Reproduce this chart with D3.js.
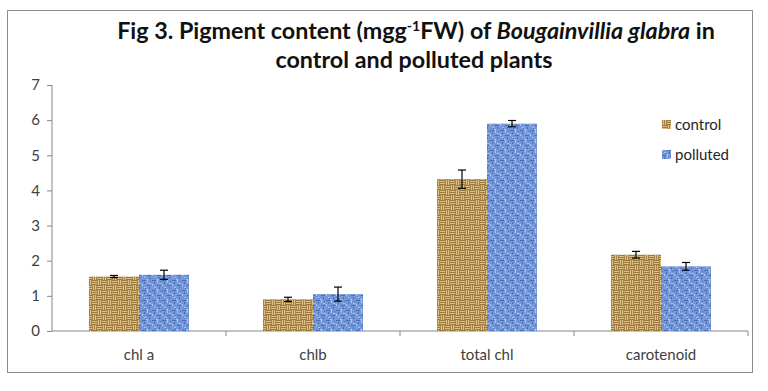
<!DOCTYPE html>
<html><head><meta charset="utf-8">
<script src="https://cdn.jsdelivr.net/npm/d3@7"></script>
<style>body{margin:0;background:#fff}svg{display:block}</style>
</head><body>
<svg id="c" width="768" height="391"></svg>
<script>
const categories = ["chl a", "chlb", "total chl", "carotenoid"];
const seriesNames = ["control", "polluted"];
const controlValues = [1.55, 0.90, 4.32, 2.17];
const pollutedValues = [1.60, 1.05, 5.90, 1.84];
const controlErrors = [0.03, 0.06, 0.26, 0.095];
const pollutedErrors = [0.13, 0.2, 0.09, 0.11];
const yTicks = [0, 1, 2, 3, 4, 5, 6, 7];

const svg = d3.select("#c");
const defs = svg.append("defs");
const FONT = "Lato, 'Open Sans', sans-serif";

// tan basketweave pattern
const pc = defs.append("pattern").attr("id", "pc").attr("patternUnits", "userSpaceOnUse").attr("width", 10).attr("height", 10);
pc.append("rect").attr("width", 10).attr("height", 10).attr("fill", "#dcc088");
[[0,0.5,5],[0,2.5,5],[0,4.5,5],[5,5.5,10],[5,7.5,10],[5,9.5,10]].forEach(l=>pc.append("line").attr("x1",l[0]).attr("y1",l[1]).attr("x2",l[2]).attr("y2",l[1]).attr("stroke","#9a773a").attr("stroke-width",1));
[[5.5,0,5],[7.5,0,5],[9.5,0,5],[0.5,5,10],[2.5,5,10],[4.5,5,10]].forEach(l=>pc.append("line").attr("x1",l[0]).attr("y1",l[1]).attr("x2",l[0]).attr("y2",l[2]).attr("stroke","#a6844a").attr("stroke-width",1));

// blue textured pattern
const pp = defs.append("pattern").attr("id", "pp").attr("patternUnits", "userSpaceOnUse").attr("width", 10).attr("height", 10);
pp.append("rect").attr("width", 10).attr("height", 10).attr("fill", "#7397d8");
[[0,0,4,1],[5,5,4,1],[2,2,1,2],[7,7,1,2],[8,1,1,1],[3,8,1,1]].forEach(r=>pp.append("rect").attr("x",r[0]).attr("y",r[1]).attr("width",r[2]).attr("height",r[3]).attr("fill","#4d6db0"));
[[0,4,1,2],[5,0,1,3],[7,3,2,1],[2,7,2,1],[4,9,2,1]].forEach(r=>pp.append("rect").attr("x",r[0]).attr("y",r[1]).attr("width",r[2]).attr("height",r[3]).attr("fill","#aac2ec"));

// outer border
svg.append("rect").attr("x", 7.5).attr("y", 10.5).attr("width", 745).attr("height", 362)
  .attr("fill", "none").attr("stroke", "#8c8c8c").attr("stroke-width", 1);

const x0 = d3.scaleBand().domain(categories).range([52, 748]).paddingInner(0).paddingOuter(0);
const y = d3.scaleLinear().domain([0, 7]).range([331, 85]);

const fills = {control: "url(#pc)", polluted: "url(#pp)"};
const rows = categories.map((c, i) => ({cat: c, vals: [
  {s: "control", v: controlValues[i], e: controlErrors[i]},
  {s: "polluted", v: pollutedValues[i], e: pollutedErrors[i]}]}));

// axes
const gy = svg.append("g").attr("transform", "translate(52,0)")
  .call(d3.axisLeft(y).tickValues(yTicks).tickSize(5).tickPadding(7).tickFormat(d3.format("d")));
gy.select(".domain").attr("stroke", "#868686").attr("d", "M0,85V331");
gy.selectAll(".tick line").attr("stroke", "#868686");
gy.selectAll("text").attr("font-family", FONT).attr("font-size", 15).attr("fill", "#404040");

const gx = svg.append("g").attr("transform", "translate(0,331)");
gx.append("line").attr("x1", 52).attr("x2", 748).attr("stroke", "#868686");
gx.selectAll("line.tk").data(categories.slice(1).concat(["__end"])).enter().append("line").attr("class", "tk")
  .attr("x1", d => d === "__end" ? 748 : x0(d)).attr("x2", d => d === "__end" ? 748 : x0(d))
  .attr("y1", 0).attr("y2", 5).attr("stroke", "#868686");
gx.selectAll("text").data(categories).enter().append("text")
  .attr("x", d => x0(d) + x0.bandwidth()/2).attr("y", 29).attr("text-anchor", "middle")
  .attr("font-family", FONT).attr("font-size", 15).attr("fill", "#404040").text(d => d);

// bars
const groups = svg.selectAll("g.cat").data(rows).enter().append("g").attr("class", "cat")
  .attr("transform", d => `translate(${x0(d.cat)},0)`);
const bw = 50;
const off = (x0.bandwidth() - 2*bw)/2;
groups.selectAll("rect").data(d => d.vals).enter().append("rect")
  .attr("x", (d, i) => off + i*bw).attr("width", bw)
  .attr("y", d => y(d.v)).attr("height", d => y(0) - y(d.v))
  .attr("fill", d => fills[d.s]);

// error bars
const eb = groups.selectAll("g.eb").data(d => d.vals).enter().append("g").attr("class", "eb")
  .attr("stroke", "#000").attr("stroke-width", 1.2);
eb.append("line").attr("x1", (d,i) => off + i*bw + bw/2).attr("x2", (d,i) => off + i*bw + bw/2)
  .attr("y1", d => y(d.v + d.e)).attr("y2", d => y(d.v - d.e));
eb.append("line").attr("x1", (d,i) => off + i*bw + bw/2 - 4).attr("x2", (d,i) => off + i*bw + bw/2 + 4)
  .attr("y1", d => y(d.v + d.e)).attr("y2", d => y(d.v + d.e));
eb.append("line").attr("x1", (d,i) => off + i*bw + bw/2 - 4).attr("x2", (d,i) => off + i*bw + bw/2 + 4)
  .attr("y1", d => y(d.v - d.e)).attr("y2", d => y(d.v - d.e));

// legend
const lg = svg.selectAll("g.lg").data(seriesNames).enter().append("g").attr("class", "lg")
  .attr("transform", (d, i) => `translate(662,${125 + i*30})`);
lg.append("rect").attr("x", 0).attr("y", -5).attr("width", 9).attr("height", 9).attr("fill", d => fills[d]);
lg.append("text").attr("x", 13).attr("y", 5).attr("font-family", FONT)
  .attr("font-size", 15).attr("fill", "#262626").text(d => d);

// title
const t = svg.append("text").attr("text-anchor", "middle").attr("font-family", FONT)
  .attr("font-weight", "bold").attr("font-size", 23.3).attr("fill", "#111");
const l1 = t.append("tspan").attr("x", 416).attr("y", 39);
l1.append("tspan").text("Fig 3. Pigment content (mgg");
l1.append("tspan").attr("font-size", 14).attr("dy", -8).text("-1");
l1.append("tspan").attr("dy", 8).text("FW) of ");
l1.append("tspan").attr("font-style", "italic").text("Bougainvillia glabra");
l1.append("tspan").text(" in");
t.append("tspan").attr("x", 414).attr("y", 68).text("control and polluted plants");
</script>
</body></html>
